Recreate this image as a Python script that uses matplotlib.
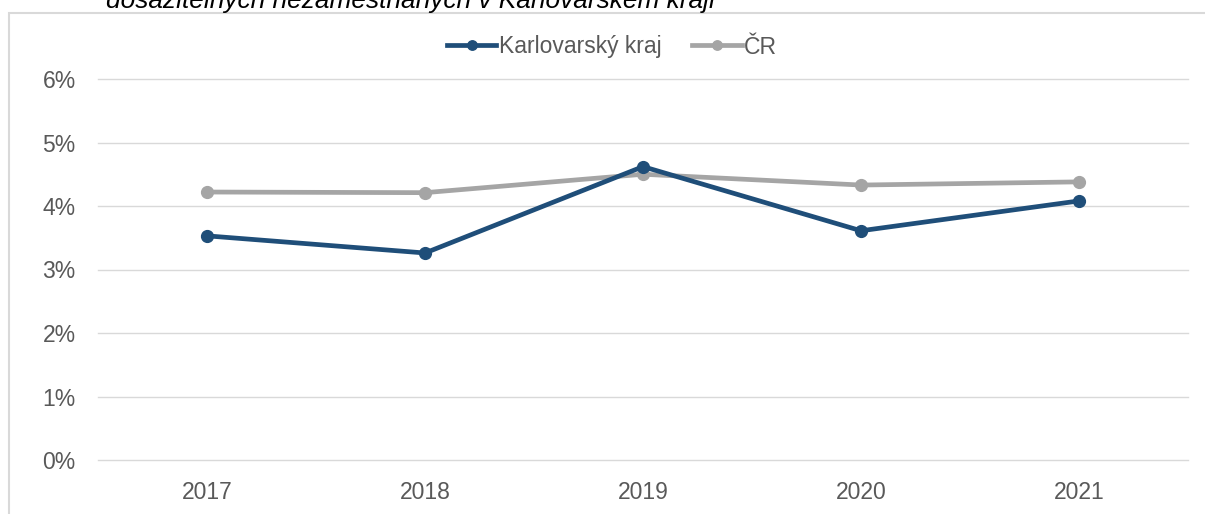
import matplotlib
matplotlib.use("Agg")
import matplotlib.pyplot as plt
from matplotlib.patches import Rectangle

plt.rcParams['font.family'] = ['Liberation Sans', 'DejaVu Sans']

# DATA
# -------------------------
years = ["2017", "2018", "2019", "2020", "2021"]
karlovarsky = [3.53, 3.26, 4.62, 3.61, 4.08]
cr = [4.22, 4.21, 4.50, 4.33, 4.38]
y_ticks = [0, 1, 2, 3, 4, 5, 6]
title_text = "dosažitelných nezaměstnaných v Karlovarském kraji"

BLUE = "#1F4E79"
GRAY = "#A5A5A5"
TXT = "#595959"
FS = 16.5

# GRAF
# -------------------------
fig = plt.figure(figsize=(12.05, 5.14), dpi=100)
ax = fig.add_axes([98 / 1205, 1 - 460 / 514, 1090 / 1205, 381 / 514])

x = range(len(years))
ax.plot(x, karlovarsky, color=BLUE, lw=3.4, marker="o", ms=8.5,
        label="Karlovarský kraj", zorder=3)
ax.plot(x, cr, color=GRAY, lw=3.4, marker="o", ms=8.5, label="ČR", zorder=2)

ax.set_xlim(-0.5, len(years) - 0.5)
ax.set_ylim(0, 6)
ax.set_xticks(list(x))
ax.set_xticklabels(years)
ax.set_yticks(y_ticks)
ax.set_yticklabels([f"{v}%" for v in y_ticks])
ax.tick_params(axis="both", length=0, labelsize=FS, colors=TXT)
ax.tick_params(axis="y", pad=16)
ax.tick_params(axis="x", pad=15)

for v in y_ticks:
    ax.axhline(v, color="#D9D9D9", lw=1, zorder=0, clip_on=False)
for s in ax.spines.values():
    s.set_visible(False)

# ramecek
fig.patches.append(Rectangle((9 / 1205, -0.01), 1.0, 1 - 13 / 514 + 0.01,
                             transform=fig.transFigure, fill=False,
                             edgecolor="#D9D9D9", lw=1.5))

leg = fig.legend(loc="center", bbox_to_anchor=(612 / 1205, 1 - 47 / 514),
                 ncol=2, frameon=False, fontsize=FS, labelcolor=TXT,
                 handlelength=2.15, handletextpad=0.1, columnspacing=1.35,
                 markerscale=0.8)

fig.text(410 / 1205, 1 - 8 / 514, title_text, ha="center", va="baseline",
         fontsize=18.9, style="italic", color="#000000")

fig.savefig("out.png", dpi=100, facecolor="white")
